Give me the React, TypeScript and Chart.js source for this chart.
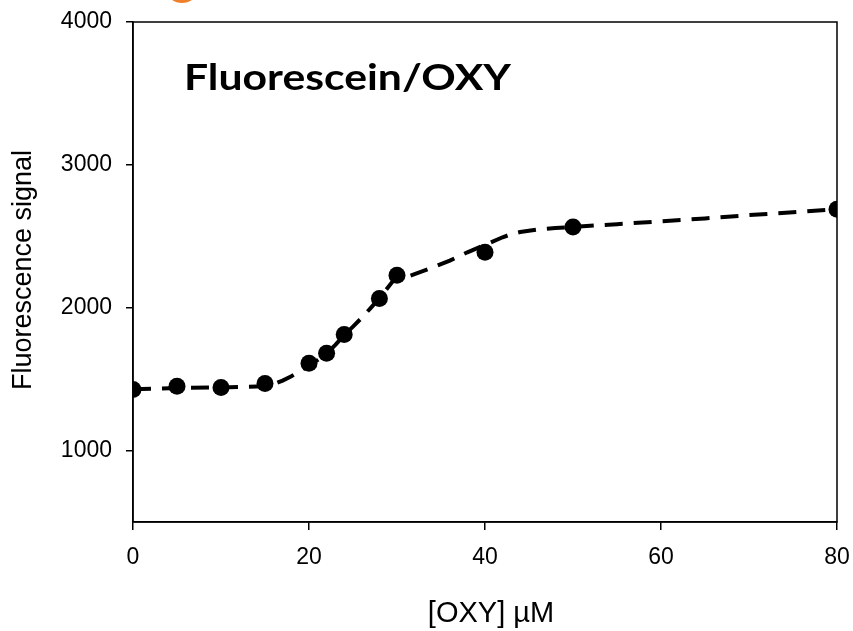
import React, { useEffect, useRef } from 'react';
import { Chart, registerables } from 'chart.js';

Chart.register(...registerables);

// measured points
const concentrations = [0, 5, 10, 15, 20, 22, 24, 28, 30, 40, 50, 80];
const signals = [1428, 1450, 1442, 1470, 1612, 1682, 1813, 2065, 2227, 2388, 2565, 2690];

// fitted (dashed) curve
const fitConc = [0, 5, 10, 15, 16, 17, 18, 19, 20, 21, 22, 23, 24, 25, 26, 27, 28, 29.5, 30, 32, 34, 36, 38, 40, 42, 43, 44, 46, 48, 50, 55, 60, 65, 70, 75, 80];
const fitSignal = [1430, 1438, 1442, 1450, 1465, 1490, 1520, 1558, 1595, 1635, 1680, 1740, 1808, 1868, 1930, 1997, 2067, 2183, 2193, 2235, 2280, 2330, 2388, 2440, 2493, 2515, 2530, 2548, 2558, 2566, 2585, 2605, 2625, 2648, 2668, 2690];

const xTicks = [0, 20, 40, 60, 80];
const yTicks = [1000, 2000, 3000, 4000];

const chartTitle = 'Fluorescein/OXY';
const xTitle = '[OXY] µM';
const yTitle = 'Fluorescence signal';

const FONT = '"Liberation Sans", Arial, sans-serif';

const decorPlugin = {
  id: 'decor',
  afterDraw(chart: any) {
    const { ctx, chartArea: a } = chart;
    ctx.save();
    // frame (top & right sides)
    ctx.strokeStyle = '#000';
    ctx.lineWidth = 1.5;
    ctx.strokeRect(a.left, a.top, a.right - a.left, a.bottom - a.top);

    // small orange shape cut at the top edge
    ctx.fillStyle = '#F07F2A';
    ctx.beginPath();
    ctx.ellipse(182, -7, 14, 10, 0, 0, Math.PI * 2);
    ctx.fill();

    ctx.fillStyle = '#000';
    // chart title (stretched to the reference width)
    ctx.save();
    ctx.font = 'bold 37px Lato, "Open Sans", sans-serif';
    ctx.textAlign = 'left';
    ctx.textBaseline = 'alphabetic';
    const w = ctx.measureText(chartTitle).width;
    const sx = 327 / w;
    ctx.translate(a.left + 51, a.top + 68);
    ctx.scale(sx, 1);
    ctx.fillText(chartTitle, 0, 0);
    ctx.restore();

    // x title
    ctx.font = '29px ' + FONT;
    ctx.textAlign = 'center';
    ctx.textBaseline = 'middle';
    ctx.fillText(xTitle, (a.left + a.right) / 2 + 6, 614);

    // y title
    ctx.translate(24, (a.top + a.bottom) / 2 - 2);
    ctx.rotate(-Math.PI / 2);
    ctx.font = '27px ' + FONT;
    ctx.fillText(yTitle, 0, 0);
    ctx.restore();
  },
};

export default function App() {
  const ref = useRef<HTMLCanvasElement | null>(null);

  useEffect(() => {
    if (!ref.current) return;
    const chart = new Chart(ref.current, {
      type: 'scatter',
      data: {
        datasets: [
          {
            label: 'fit',
            data: fitConc.map((x, i) => ({ x, y: fitSignal[i] })),
            showLine: true,
            borderColor: '#000',
            borderWidth: 4,
            borderDash: [18, 11],
            pointRadius: 0,
            tension: 0,
            fill: false,
          },
          {
            label: 'data',
            data: concentrations.map((x, i) => ({ x, y: signals[i] })),
            showLine: false,
            backgroundColor: '#000',
            borderColor: '#000',
            pointRadius: 8.5,
            pointBorderWidth: 0,
          },
        ],
      },
      options: {
        responsive: false,
        animation: false,
        events: [],
        layout: { padding: { top: 22, right: 16, left: 0, bottom: 0 } },
        plugins: { legend: { display: false }, tooltip: { enabled: false } },
        scales: {
          x: {
            type: 'linear',
            min: 0,
            max: 80,
            afterBuildTicks: (s: any) => {
              s.ticks = xTicks.map((v) => ({ value: v }));
            },
            afterFit: (s: any) => {
              s.height = 109;
              s.paddingLeft = 0;
              s.paddingRight = 0;
              s.paddingTop = 0;
              s.paddingBottom = 0;
            },
            grid: { display: true, drawOnChartArea: false, drawTicks: true, tickLength: 8, color: '#000', lineWidth: 1.5 },
            border: { display: true, color: '#000', width: 1.5 },
            ticks: { color: '#000', font: { family: FONT, size: 23 }, padding: 14, maxRotation: 0, callback: (v: any) => String(v) },
          },
          y: {
            type: 'linear',
            min: 500,
            max: 4000,
            afterBuildTicks: (s: any) => {
              s.ticks = yTicks.map((v) => ({ value: v }));
            },
            afterFit: (s: any) => {
              s.width = 133;
              s.paddingLeft = 0;
              s.paddingRight = 0;
              s.paddingTop = 0;
              s.paddingBottom = 0;
            },
            grid: { display: true, drawOnChartArea: false, drawTicks: true, tickLength: 7, color: '#000', lineWidth: 1.5 },
            border: { display: true, color: '#000', width: 1.5 },
            ticks: { color: '#000', font: { family: FONT, size: 23 }, padding: 14, callback: (v: any) => String(v) },
          },
        },
      },
      plugins: [decorPlugin],
    });
    return () => chart.destroy();
  }, []);

  return (
    <div style={{ position: 'absolute', left: 0, top: 0, width: 853, height: 631, background: '#fff' }}>
      <canvas ref={ref} width={853} height={631} style={{ display: 'block' }} />
    </div>
  );
}
